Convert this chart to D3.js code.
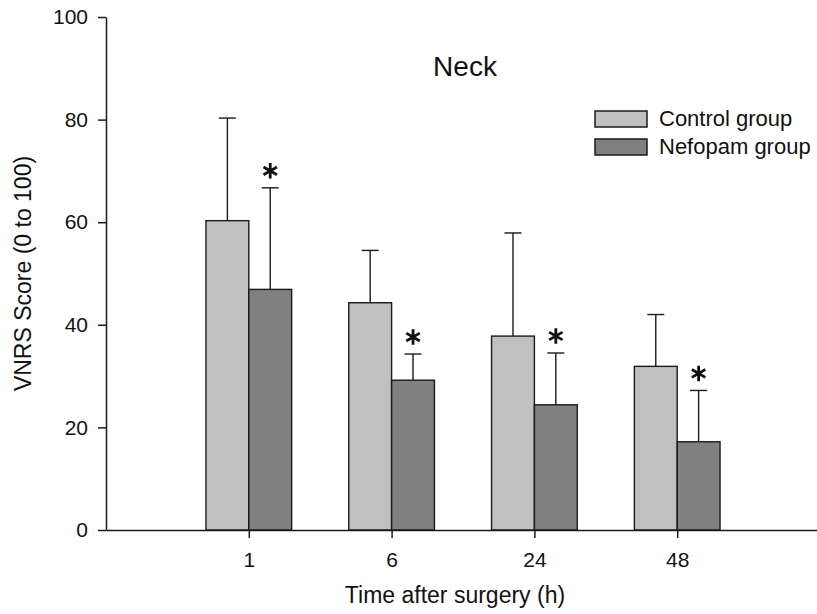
<html>
  <head>
    <style>
      body { margin: 0; background: #fff; }
      text { font-family: "Liberation Sans", Arial, sans-serif; fill: #111; }
    </style>
    <script src="https://cdn.jsdelivr.net/npm/d3@7"></script>
  </head>
  <body>
    <svg id="container" height="614" width="817"></svg>
  </body>
  <script>
    // data
    const times = ["1", "6", "24", "48"];
    const controlMean = [60.3, 44.3, 37.8, 31.9];
    const controlSD = [20.0, 10.2, 20.1, 10.1];
    const nefopamMean = [46.9, 29.2, 24.4, 17.2];
    const nefopamSD = [19.8, 5.1, 10.1, 10.0];
    const yTicks = [0, 20, 40, 60, 80, 100];
    const groups = ["Control group", "Nefopam group"];
    const groupColors = ["#c0c0c0", "#808080"];

    const svg = d3.select("#container");
    const plotLeft = 106, plotRight = 820, plotTop = 17, plotBottom = 530;

    const x = d3.scalePoint().domain(times).range([plotLeft, plotRight]).padding(1);
    const y = d3.scaleLinear().domain([0, 100]).range([plotBottom, plotTop]);
    const barW = x.step() * 0.3;

    const rows = times.map((t, i) => [
      { t, g: 0, mean: controlMean[i], sd: controlSD[i], star: false },
      { t, g: 1, mean: nefopamMean[i], sd: nefopamSD[i], star: true }
    ]).flat();

    const stroke = "#1a1a1a";

    // error bars (upper only)
    const err = svg.append("g").attr("stroke", stroke).attr("stroke-width", 1.4);
    rows.forEach(d => {
      const cx = x(d.t) + (d.g === 0 ? -barW / 2 : barW / 2);
      err.append("line").attr("x1", cx).attr("x2", cx)
        .attr("y1", y(d.mean)).attr("y2", y(d.mean + d.sd));
      err.append("line").attr("x1", cx - 8.5).attr("x2", cx + 8.5)
        .attr("y1", y(d.mean + d.sd)).attr("y2", y(d.mean + d.sd));
    });

    // bars
    svg.append("g").selectAll("rect").data(rows).enter().append("rect")
      .attr("x", d => d.g === 0 ? x(d.t) - barW : x(d.t))
      .attr("y", d => y(d.mean))
      .attr("width", barW)
      .attr("height", d => y(0) - y(d.mean))
      .attr("fill", d => groupColors[d.g])
      .attr("stroke", stroke)
      .attr("stroke-width", 1.4);

    // significance markers
    svg.append("g").selectAll("path").data(rows.filter(d => d.star)).enter().append("path")
      .attr("d", d3.symbol(d3.symbolAsterisk, 170))
      .attr("transform", d => `translate(${x(d.t) + barW / 2},${y(d.mean + d.sd) - 17})`)
      .attr("fill", "none")
      .attr("stroke", "#111")
      .attr("stroke-width", 2.8);

    // axes
    const yAxis = svg.append("g").attr("transform", `translate(${plotLeft},0)`)
      .call(d3.axisLeft(y).tickValues(yTicks).tickSize(8).tickSizeOuter(0).tickPadding(10));
    const xAxis = svg.append("g").attr("transform", `translate(0,${plotBottom})`)
      .call(d3.axisBottom(x).tickSize(8).tickSizeOuter(0).tickPadding(14));
    [yAxis, xAxis].forEach(a => {
      a.selectAll("path, line").attr("stroke", stroke).attr("stroke-width", 1.5);
      a.selectAll("text").attr("font-size", 21).attr("fill", "#111")
        .attr("font-family", "'Liberation Sans', Arial, sans-serif");
    });

    // titles
    svg.append("text").attr("x", 465).attr("y", 76).attr("text-anchor", "middle")
      .attr("font-size", 28).text("Neck");
    svg.append("text").attr("x", 455).attr("y", 603).attr("text-anchor", "middle")
      .attr("font-size", 23).text("Time after surgery (h)");
    svg.append("text").attr("transform", `translate(31,${(plotTop + plotBottom) / 2}) rotate(-90)`)
      .attr("text-anchor", "middle").attr("font-size", 23).text("VNRS Score (0 to 100)");

    // legend
    const legend = svg.append("g").attr("transform", "translate(595,111)");
    groups.forEach((g, i) => {
      legend.append("rect").attr("x", 0).attr("y", i * 28).attr("width", 52).attr("height", 16)
        .attr("fill", groupColors[i]).attr("stroke", stroke).attr("stroke-width", 1.5);
      legend.append("text").attr("x", 64).attr("y", i * 28 + 15).attr("font-size", 22).text(g);
    });
  </script>
</html>
